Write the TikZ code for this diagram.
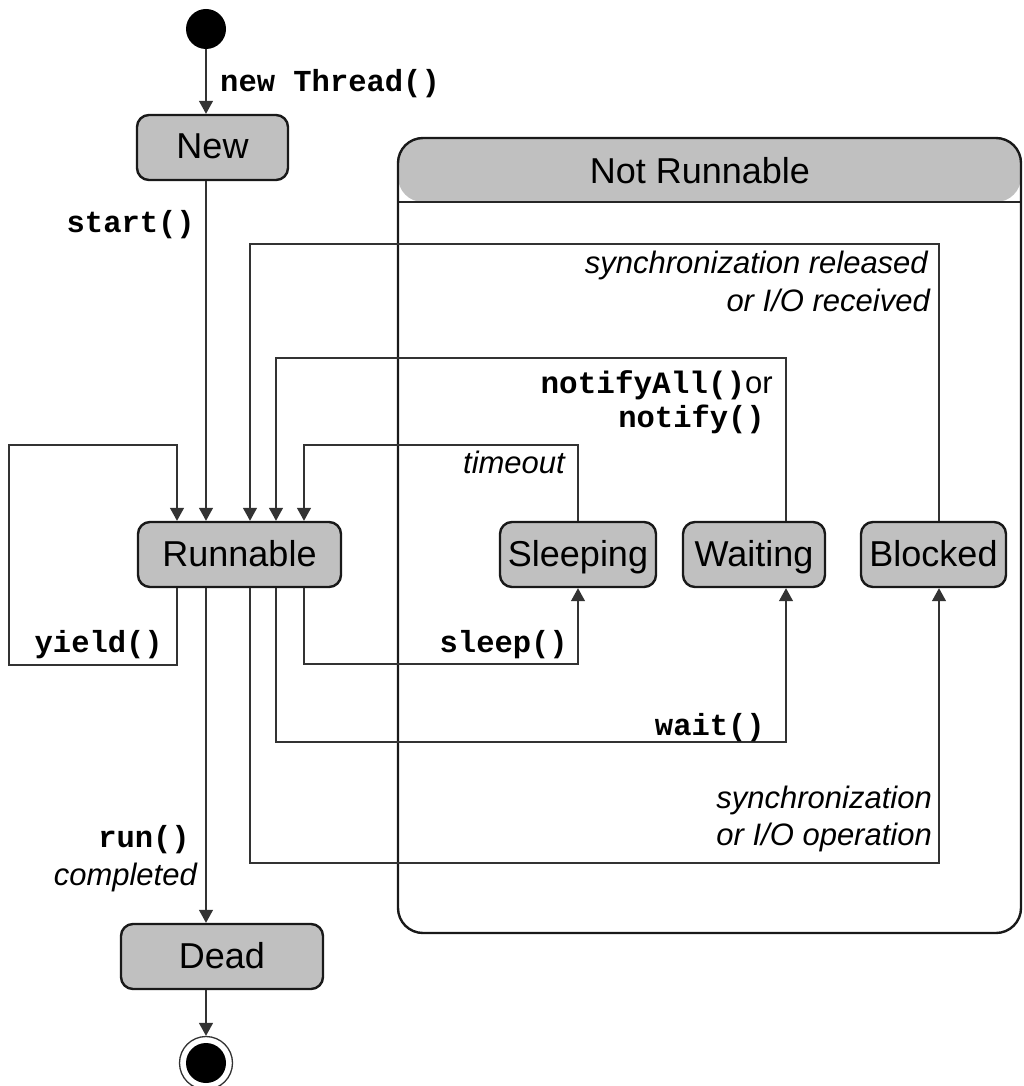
\documentclass[tikz,border=0pt]{standalone}
\usepackage{fontspec}
\usepackage{xcolor}
\usetikzlibrary{arrows.meta}
\setmainfont{Liberation Sans}
\newfontfamily\codefont{Liberation Mono}
\definecolor{stategray}{HTML}{C0C0C0}

\tikzset{
  state/.style={draw=black!90, line width=2.4pt, fill=stategray, rounded corners=12pt,
    minimum height=65pt, inner sep=0pt, font=\fontsize{36}{40}\selectfont,
    text height=25pt, text depth=2pt},
  group/.style={draw=black!90, line width=2.4pt, rounded corners=25pt,
    path picture={
      \fill[stategray] (path picture bounding box.north west) rectangle
        ([yshift=-64pt]path picture bounding box.north east);
      \draw[black!85, line width=1.6pt] ([yshift=-64pt]path picture bounding box.north west) --
        ([yshift=-64pt]path picture bounding box.north east);
    }},
  trans/.style={draw=black!80, line width=1.3pt},
  arr/.style={trans, -{Triangle[length=13pt,width=14pt]}},
  code/.style={font=\fontsize{30.5}{36}\selectfont\codefont\bfseries, inner sep=0pt},
  cond/.style={font=\fontsize{31}{37}\selectfont\itshape, inner sep=0pt},
  lbl/.style={font=\fontsize{31}{37}\selectfont, inner sep=0pt}
}

\begin{document}
\begin{tikzpicture}[x=1pt, y=1pt]
  \useasboundingbox (0,0) rectangle (1023,-1086);

  % Not Runnable group
  \node[group, minimum width=623pt, minimum height=795pt] (notrun) at (709.5,-535.5) {};
  \node[font=\fontsize{36}{40}\selectfont, inner sep=0pt, anchor=base] (notrunlabel) at (700,-183) {Not Runnable};

  % Lanes and levels
  \coordinate (lnY) at (177,0);
  \coordinate (lnM) at (206,0);
  \coordinate (lnB) at (250,0);
  \coordinate (lnW) at (276,0);
  \coordinate (lnS) at (304,0);
  \coordinate (lnWt) at (786,0);
  \coordinate (lnBt) at (939,0);
  \coordinate (yieldtop) at (9,-445);
  \coordinate (yieldbot) at (9,-665);
  \coordinate (timeoutlvl) at (0,-445);
  \coordinate (notifylvl) at (0,-358);
  \coordinate (releaselvl) at (0,-244);
  \coordinate (sleeplvl) at (0,-664);
  \coordinate (waitlvl) at (0,-742);
  \coordinate (synclvl) at (0,-863);

  % States
  \node[circle, fill=black, minimum size=40pt, inner sep=0pt] (init) at (206,-29) {};
  \node[state, minimum width=151pt] (New) at (212.5,-147.5) {New};
  \node[state, minimum width=203pt] (Runnable) at (239.5,-554.5) {Runnable};
  \node[state, minimum width=156pt] (Sleeping) at (578,-554.5) {Sleeping};
  \node[state, minimum width=142pt] (Waiting) at (754,-554.5) {Waiting};
  \node[state, minimum width=145pt] (Blocked) at (933.5,-554.5) {Blocked};
  \node[state, minimum width=202pt] (Dead) at (222,-956.5) {Dead};
  \node[circle, draw=black!80, line width=1.3pt, minimum size=53pt, inner sep=0pt] (final) at (206,-1063) {};
  \fill[black] (final.center) circle (20pt);

  % Transitions
  \draw[arr] (init.south) -- (New.north -| init.south);
  \draw[arr] (New.south -| lnM) -- (Runnable.north -| lnM);
  \draw[arr] (Runnable.south -| lnY) |- (yieldbot) -- (yieldtop) -| (Runnable.north -| lnY);
  \draw[arr] (Runnable.south -| lnS) |- (sleeplvl -| Sleeping.south) -- (Sleeping.south);
  \draw[arr] (Runnable.south -| lnW) |- (waitlvl -| lnWt) -- (Waiting.south -| lnWt);
  \draw[arr] (Runnable.south -| lnB) |- (synclvl -| lnBt) -- (Blocked.south -| lnBt);
  \draw[arr] (Sleeping.north) |- (timeoutlvl -| lnS) -- (Runnable.north -| lnS);
  \draw[arr] (Waiting.north -| lnWt) |- (notifylvl -| lnW) -- (Runnable.north -| lnW);
  \draw[arr] (Blocked.north -| lnBt) |- (releaselvl -| lnB) -- (Runnable.north -| lnB);
  \draw[arr] (Runnable.south -| lnM) -- (Dead.north -| lnM);
  \draw[arr] (Dead.south -| lnM) -- (final);

  % Labels
  \node[code, anchor=base west] (lblnew) at (220,-92) {new Thread()};
  \node[code, anchor=base east] (lblstart) at (195,-232) {start()};
  \node[code, anchor=base east] (lblyield) at (163,-652) {yield()};
  \node[code, anchor=base east] (lblsleep) at (568,-652) {sleep()};
  \node[code, anchor=base east] (lblwait) at (765,-735) {wait()};
  \node[cond, anchor=base east] (lbltimeout) at (565,-473) {timeout};
  \node[lbl, anchor=base east] (lblnotifyall) at (773,-393) {{\codefont\bfseries notifyAll()}or};
  \node[code, anchor=base east] (lblnotify) at (765,-427) {notify()};
  \node[cond, anchor=base east] (lblrelA) at (928,-273) {synchronization released};
  \node[cond, anchor=base east] (lblrelB) at (930,-311) {or I/O received};
  \node[cond, anchor=base east] (lblsyncA) at (932,-808) {synchronization};
  \node[cond, anchor=base east] (lblsyncB) at (932,-845) {or I/O operation};
  \node[code, anchor=base east] (lblrun) at (190,-847) {run()};
  \node[cond, anchor=base east] (lbldone) at (197,-885) {completed};
\end{tikzpicture}
\end{document}
